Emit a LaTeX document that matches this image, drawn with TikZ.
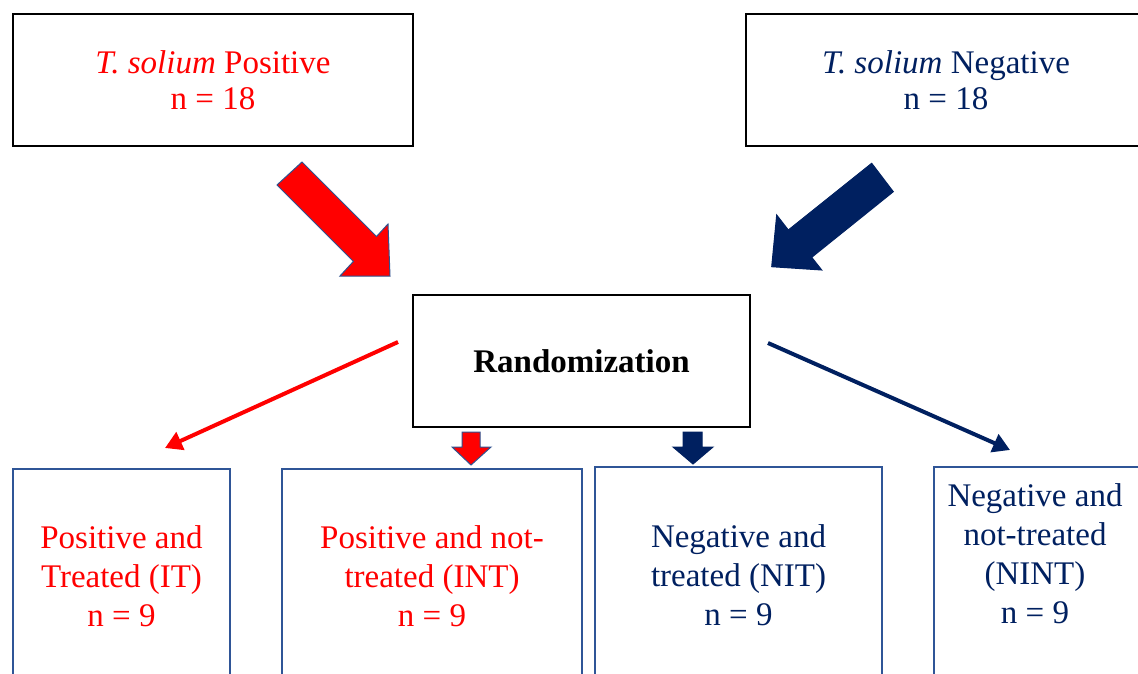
\documentclass[tikz,border=0pt]{standalone}
\usepackage{fontspec}
\setmainfont{Liberation Serif}
\usetikzlibrary{arrows.meta}
\definecolor{tred}{RGB}{255,0,0}
\definecolor{navy}{RGB}{0,32,96}
\definecolor{bblue}{RGB}{47,85,151}
\definecolor{oline}{RGB}{47,82,143}
\begin{document}
\begin{tikzpicture}[x=1pt,y=-1pt,
  txt/.style={font=\fontsize{33}{39}\selectfont, align=center, inner sep=0pt},
  toptxt/.style={font=\fontsize{33}{36}\selectfont, align=center, inner sep=0pt},
  topbox/.style={draw=black, line width=2.5pt, inner sep=0pt},
  botbox/.style={draw=bblue, line width=2.5pt, inner sep=0pt},
  bigred/.style={fill=tred, draw=oline, line width=1pt, line join=miter},
  bignavy/.style={fill=navy, draw=navy, line width=1pt, line join=miter},
  thinarrow/.style={line width=4pt, -{Triangle[length=17pt,width=19pt]}},
]
\useasboundingbox (0,0) rectangle (1138,673);
\clip (0,0) rectangle (1138,673);
\fill[white] (0,0) rectangle (1138,673);

% top boxes
\node[topbox, toptxt, text=tred, minimum width=400pt, minimum height=132pt] (pos) at (213,80)
  {\textit{T. solium} Positive\\n = 18};
\node[topbox, toptxt, text=navy, minimum width=400pt, minimum height=132pt] (neg) at (946,80)
  {\textit{T. solium} Negative\\n = 18};

% randomization
\node[topbox, txt, minimum width=337pt, minimum height=132pt] (rand) at (581.5,361)
  {\textbf{Randomization}};

% bottom boxes
\node[botbox, txt, text=tred, minimum width=217pt, minimum height=214pt] (it) at (121.5,576)
  {Positive and\\Treated (IT)\\n = 9};
\node[botbox, txt, text=tred, minimum width=300pt, minimum height=214pt] (int) at (432,576)
  {Positive and not-\\treated (INT)\\n = 9};
\node[botbox, txt, text=navy, minimum width=287pt, minimum height=216pt] (nit) at (738.5,575)
  {Negative and\\treated (NIT)\\n = 9};
\node[botbox, minimum width=211pt, minimum height=216pt] (nint) at (1039.5,575) {};
\node[txt, text=navy] (nintt) at (1035,554)
  {Negative and\\not-treated\\(NINT)\\n = 9};

% big diagonal arrows
\draw[bigred] (277,185) -- (302,162) -- (376.5,236.5) -- (388,224) -- (390,276)
  -- (340,276) -- (353.4,261.4) -- cycle;
\draw[bignavy] (871.7,163.3) -- (788.3,230) -- (776.7,215) -- (771.7,266.7)
  -- (821.7,270) -- (811.7,257.3) -- (893.3,191.7) -- cycle;

% small down arrows
\draw[bigred] (462,432) -- (480,432) -- (480,447) -- (491,447) -- (471,465)
  -- (452,447) -- (462,447) -- cycle;
\draw[bignavy] (683,432) -- (702,432) -- (702,447) -- (713,447) -- (693,464)
  -- (673,447) -- (683,447) -- cycle;

% thin arrows
\coordinate (rs) at (398,342);
\coordinate (re) at (165,448);
\coordinate (bs) at (768,343);
\coordinate (be) at (1010,450);
\draw[thinarrow, tred] (rs) -- (re);
\draw[thinarrow, navy] (bs) -- (be);
\end{tikzpicture}
\end{document}
